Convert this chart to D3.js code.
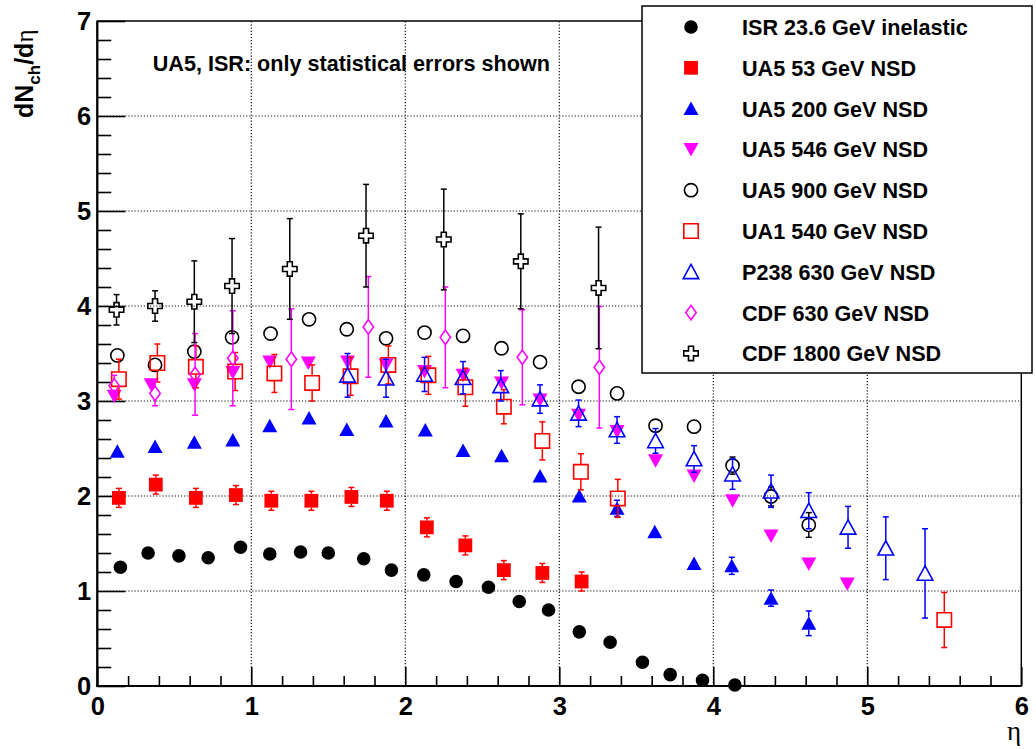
<!DOCTYPE html>
<html><head><meta charset="utf-8">
<script src="https://cdn.jsdelivr.net/npm/d3@7"></script>
<style>
body{margin:0;background:#fff;}
svg{display:block;}
text{font-family:"Liberation Sans",Arial,Helvetica,sans-serif;font-weight:bold;fill:#000;}
</style>
</head><body>
<svg id="c" width="1036" height="749"></svg>
<script>
// ---------------- data ----------------
const xTicks = [0,1,2,3,4,5,6];
const yTicks = [0,1,2,3,4,5,6,7];
const legendLabels = ["ISR 23.6 GeV inelastic","UA5 53 GeV NSD","UA5 200 GeV NSD","UA5 546 GeV NSD",
  "UA5 900 GeV NSD","UA1 540 GeV NSD","P238 630 GeV NSD","CDF 630 GeV NSD","CDF 1800 GeV NSD"];
const noteText = "UA5, ISR: only statistical errors shown";

const isrEta = [0.15,0.33,0.53,0.72,0.93,1.12,1.32,1.50,1.73,1.91,2.12,2.33,2.54,2.74,2.93,3.13,3.33,3.54,3.72,3.93,4.14];
const isrVal = [1.25,1.40,1.37,1.35,1.46,1.39,1.41,1.40,1.34,1.22,1.17,1.10,1.04,0.89,0.80,0.57,0.46,0.25,0.12,0.06,0.01];
const isrErr = [0,0,0,0,0,0,0,0,0,0,0,0,0,0,0,0,0,0,0,0,0];

const ua5_53Eta = [0.14,0.38,0.64,0.90,1.13,1.39,1.65,1.88,2.14,2.39,2.64,2.89,3.145];
const ua5_53Val = [1.98,2.12,1.98,2.01,1.95,1.95,1.99,1.95,1.67,1.48,1.22,1.19,1.10];
const ua5_53Err = [0.10,0.10,0.10,0.10,0.10,0.10,0.10,0.10,0.10,0.10,0.10,0.10,0.10];

const ua5_200Eta = [0.13,0.375,0.63,0.88,1.12,1.375,1.62,1.875,2.13,2.375,2.625,2.875,3.13,3.375,3.62,3.875,4.12,4.375,4.62];
const ua5_200Val = [2.47,2.52,2.565,2.59,2.74,2.82,2.70,2.79,2.695,2.48,2.425,2.21,2.00,1.87,1.625,1.29,1.265,0.925,0.66];
const ua5_200Err = [0.05,0.05,0.05,0.05,0.05,0.05,0.05,0.05,0.05,0.05,0.05,0.05,0.05,0.085,0.05,0.05,0.09,0.085,0.13];

const ua5_546Eta = [0.11,0.35,0.63,0.88,1.12,1.37,1.625,1.875,2.125,2.375,2.625,2.875,3.125,3.375,3.625,3.875,4.125,4.375,4.62,4.87];
const ua5_546Val = [3.05,3.17,3.17,3.30,3.41,3.40,3.41,3.38,3.31,3.27,3.19,3.01,2.85,2.68,2.37,2.21,1.95,1.58,1.285,1.075];
const ua5_546Err = [0.05,0.05,0.05,0.05,0.05,0.05,0.05,0.05,0.05,0.05,0.05,0.05,0.05,0.05,0.05,0.05,0.05,0.05,0.05,0.05];

const ua5_900Eta = [0.13,0.375,0.63,0.875,1.125,1.375,1.62,1.875,2.125,2.375,2.625,2.875,3.125,3.375,3.625,3.875,4.125,4.375,4.62];
const ua5_900Val = [3.48,3.38,3.52,3.67,3.71,3.86,3.755,3.66,3.72,3.685,3.555,3.41,3.15,3.08,2.74,2.73,2.32,1.995,1.695];
const ua5_900Err = [0.05,0.05,0.05,0.05,0.05,0.05,0.05,0.05,0.05,0.05,0.05,0.05,0.05,0.075,0.05,0.075,0.09,0.10,0.13];

const ua1Eta = [0.14,0.39,0.64,0.895,1.15,1.395,1.645,1.89,2.15,2.39,2.64,2.89,3.14,3.38,5.5];
const ua1Val = [3.23,3.40,3.36,3.31,3.29,3.19,3.26,3.38,3.27,3.145,2.94,2.58,2.255,1.975,0.695];
const ua1Err = [0.21,0.20,0.22,0.20,0.20,0.19,0.20,0.20,0.20,0.20,0.18,0.20,0.19,0.20,0.29];

const p238Eta = [1.625,1.875,2.125,2.375,2.62,2.875,3.125,3.375,3.625,3.875,4.125,4.375,4.62,4.875,5.12,5.375];
const p238Val = [3.27,3.24,3.28,3.245,3.16,3.02,2.87,2.695,2.58,2.39,2.23,2.05,1.845,1.67,1.45,1.185];
const p238Err = [0.23,0.20,0.18,0.17,0.16,0.15,0.14,0.14,0.13,0.14,0.16,0.17,0.19,0.22,0.33,0.47];

const cdf630Eta = [0.11,0.375,0.635,0.88,1.26,1.76,2.26,2.76,3.26];
const cdf630Val = [3.16,3.08,3.28,3.45,3.44,3.78,3.67,3.46,3.355];
const cdf630Err = [0.11,0.13,0.43,0.50,0.53,0.53,0.53,0.50,0.64];

const cdf1800Eta = [0.125,0.375,0.63,0.875,1.25,1.745,2.25,2.75,3.255];
const cdf1800Val = [3.96,4.00,4.045,4.21,4.39,4.74,4.70,4.47,4.19];
const cdf1800Err = [0.16,0.16,0.43,0.50,0.53,0.54,0.53,0.50,0.64];

// ---------------- setup ----------------
const svg = d3.select("#c");
const X0 = 97.3, X1 = 1021.3, Y0 = 686, Y1 = 21;
const x = d3.scaleLinear().domain([0,6]).range([X0,X1]);
const y = d3.scaleLinear().domain([0,7]).range([Y0,Y1]);

// marker shapes
const shapes = {
  circleF: {hs:6.8, path: d3.symbol(d3.symbolCircle, Math.PI*6.8*6.8)(), fill:true},
  squareF: {hs:6.9, path: "M-6.9,-6.9H6.9V6.9H-6.9Z", fill:true},
  triUpF: {hs:6.5, path: "M0,-7L7.5,6.5L-7.5,6.5Z", fill:true},
  triDownF:{hs:6.5, path: "M0,7L7.5,-6.5L-7.5,-6.5Z", fill:true},
  circleO: {hs:6.8, path: d3.symbol(d3.symbolCircle, Math.PI*6.6*6.6)(), fill:false},
  squareO: {hs:7.3, path: "M-7.2,-7.2H7.2V7.2H-7.2Z", fill:false},
  triUpO: {hs:7, path: "M0,-7.5L7.8,6.8L-7.8,6.8Z", fill:false},
  diamondO:{hs:7.2, path: "M0,-7.2L5.2,0L0,7.2L-5.2,0Z", fill:false},
  crossO: {hs:7.2, path: (()=>{const R=7.2,t=2.5;return `M${-t},${-R}L${t},${-R}L${t},${-t}L${R},${-t}L${R},${t}L${t},${t}L${t},${R}L${-t},${R}L${-t},${t}L${-R},${t}L${-R},${-t}L${-t},${-t}Z`;})(), fill:false}
};

const series = [
  {eta:isrEta, val:isrVal, err:isrErr, shape:"circleF", color:"#000000"},
  {eta:ua5_53Eta, val:ua5_53Val, err:ua5_53Err, shape:"squareF", color:"#ff0000"},
  {eta:ua5_200Eta, val:ua5_200Val, err:ua5_200Err, shape:"triUpF", color:"#0000ff"},
  {eta:ua5_546Eta, val:ua5_546Val, err:ua5_546Err, shape:"triDownF", color:"#ff00ff"},
  {eta:ua5_900Eta, val:ua5_900Val, err:ua5_900Err, shape:"circleO", color:"#000000"},
  {eta:ua1Eta, val:ua1Val, err:ua1Err, shape:"squareO", color:"#ff0000"},
  {eta:p238Eta, val:p238Val, err:p238Err, shape:"triUpO", color:"#0000ff"},
  {eta:cdf630Eta, val:cdf630Val, err:cdf630Err, shape:"diamondO", color:"#ff00ff"},
  {eta:cdf1800Eta, val:cdf1800Val, err:cdf1800Err, shape:"crossO", color:"#000000"}
];
series.forEach((s,i)=>{ s.label = legendLabels[i]; s.points = s.eta.map((e,j)=>({eta:e, v:s.val[j], e:s.err[j]})); });

// ---------------- grid ----------------
const grid = svg.append("g");
grid.selectAll("line.gx").data(xTicks.filter(d=>d>0 && d<6)).enter().append("line")
  .attr("x1",d=>x(d)).attr("x2",d=>x(d)).attr("y1",Y0).attr("y2",Y1)
  .attr("stroke","#111").attr("stroke-width",1.2).attr("stroke-dasharray","1.2,1.9");
grid.selectAll("line.gy").data(yTicks.filter(d=>d>0 && d<7)).enter().append("line")
  .attr("y1",d=>y(d)).attr("y2",d=>y(d)).attr("x1",X0).attr("x2",X1)
  .attr("stroke","#111").attr("stroke-width",1.2).attr("stroke-dasharray","1.2,1.9");

// ---------------- axes ----------------
function styleAxis(g){
  g.select(".domain").remove();
  g.attr("font-family",null).attr("font-size",null);
  g.selectAll(".tick line").attr("stroke","#000").attr("stroke-width",1.6);
  g.selectAll(".tick text").style("font-size","25.5px").style("font-weight","bold")
    .style("font-family","'Liberation Sans',Arial,sans-serif").attr("fill","#000");
}
const yMinor = d3.range(0,7.001,0.2).filter(v=>Math.abs(v-Math.round(v))>1e-6);
const xMinor = d3.range(0,6.001,0.2).filter(v=>Math.abs(v-Math.round(v))>1e-6);

svg.append("g").attr("transform",`translate(${X0},0)`)
  .call(d3.axisLeft(y).tickValues(yMinor).tickSize(-14).tickFormat("")).call(styleAxis);
svg.append("g").attr("transform",`translate(${X0},0)`)
  .call(d3.axisLeft(y).tickValues(yTicks).tickSize(-28).tickPadding(6).tickFormat(d3.format("d"))).call(styleAxis);
svg.append("g").attr("transform",`translate(0,${Y0})`)
  .call(d3.axisBottom(x).tickValues(xMinor).tickSize(-10).tickFormat("")).call(styleAxis);
svg.append("g").attr("transform",`translate(0,${Y0})`)
  .call(d3.axisBottom(x).tickValues(xTicks).tickSize(-19).tickPadding(11).tickFormat(d3.format("d"))).call(styleAxis);

// frame
svg.append("rect").attr("x",X0).attr("y",Y1).attr("width",X1-X0).attr("height",Y0-Y1)
  .attr("fill","none").attr("stroke","#000").attr("stroke-width",1.5);
svg.append("line").attr("x1",X0).attr("x2",X0).attr("y1",Y1).attr("y2",Y0+1).attr("stroke","#000").attr("stroke-width",2.2);
svg.append("line").attr("x1",X0-1).attr("x2",X1).attr("y1",Y0).attr("y2",Y0).attr("stroke","#000").attr("stroke-width",2.2);

// ---------------- data ----------------
const dataG = svg.append("g");
series.forEach(s=>{
  const sh = shapes[s.shape];
  const g = dataG.append("g");
  s.points.forEach(p=>{
    const cy = y(p.v), cx = x(p.eta);
    const yt = y(p.v + p.e), yb = y(p.v - p.e);
    if (cy - sh.hs > yt + 0.5) {
      g.append("line").attr("x1",cx).attr("x2",cx).attr("y1",yt).attr("y2",cy-sh.hs)
        .attr("stroke",s.color).attr("stroke-width",1.5);
      g.append("line").attr("x1",cx-3).attr("x2",cx+3).attr("y1",yt).attr("y2",yt)
        .attr("stroke",s.color).attr("stroke-width",1.5);
      g.append("line").attr("x1",cx).attr("x2",cx).attr("y1",cy+sh.hs).attr("y2",yb)
        .attr("stroke",s.color).attr("stroke-width",1.5);
      g.append("line").attr("x1",cx-3).attr("x2",cx+3).attr("y1",yb).attr("y2",yb)
        .attr("stroke",s.color).attr("stroke-width",1.5);
    }
  });
  g.selectAll("path.m").data(s.points).enter().append("path")
    .attr("d",sh.path)
    .attr("transform",p=>`translate(${x(p.eta)},${y(p.v)})`)
    .attr("fill",sh.fill? s.color : "none")
    .attr("stroke",sh.fill? "none" : s.color)
    .attr("stroke-width",1.6);
});

// ---------------- note ----------------
svg.append("text").attr("x",152.7).attr("y",70.5).style("font-size","21.6px").text(noteText);

// ---------------- legend ----------------
const lg = svg.append("g");
lg.append("rect").attr("x",642).attr("y",6).attr("width",390).attr("height",367)
  .attr("fill","#fff").attr("stroke","#000").attr("stroke-width",1.5);
series.forEach((s,i)=>{
  const cy = 27 + i*40.8;
  const sh = shapes[s.shape];
  lg.append("path").attr("d",sh.path).attr("transform",`translate(691,${cy})`)
    .attr("fill",sh.fill? s.color : "none").attr("stroke",sh.fill?"none":s.color).attr("stroke-width",1.6);
  lg.append("text").attr("x",742).attr("y",cy+8).style("font-size","21.6px").text(s.label);
});

// ---------------- axis titles ----------------
const yt = svg.append("text").attr("transform","translate(33,118) rotate(-90)").style("font-size","25px");
yt.append("tspan").text("dN");
yt.append("tspan").attr("dy",7).style("font-size","17px").text("ch");
yt.append("tspan").attr("dy",-7).text("/d");
yt.append("tspan").style("font-family","'Liberation Serif','DejaVu Serif',serif").style("font-weight","normal").text("η");

svg.append("text").attr("x",1021).attr("y",740).attr("text-anchor","end")
  .style("font-family","'Liberation Serif','DejaVu Serif',serif").style("font-weight","normal")
  .style("font-size","27px").text("η");
</script>
</body></html>
